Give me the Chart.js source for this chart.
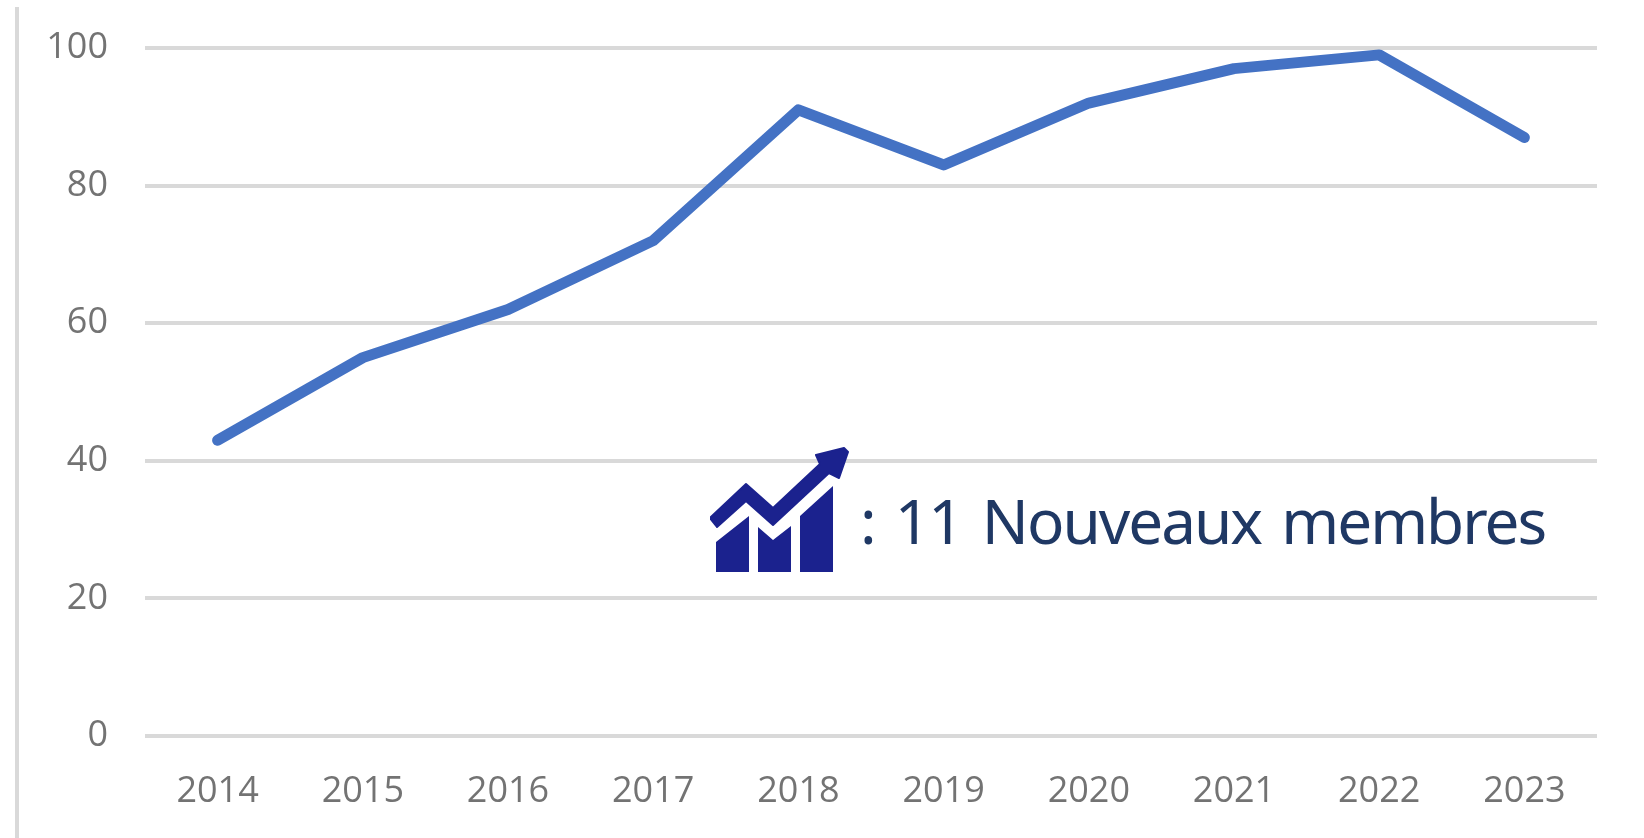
<!DOCTYPE html>
<html lang="fr">
<head>
<meta charset="utf-8">
<title>Nouveaux membres</title>
<script src="https://cdn.jsdelivr.net/npm/chart.js@4"></script>
<style>
html,body{margin:0;padding:0;background:#fff;width:1644px;height:838px;overflow:hidden}
#wrap{position:relative;width:1644px;height:838px}
#c{position:absolute;left:0;top:0}
#rule{position:absolute;left:15px;top:7px;width:4px;height:831px;background:#d9d9d9}
#icon{position:absolute;left:710px;top:447px}
#note{position:absolute;left:860px;top:489px;font:62px/1 "Noto Sans",sans-serif;letter-spacing:-2px;word-spacing:6px;color:#1f3864;white-space:nowrap}
</style>
</head>
<body>
<div id="wrap">
<canvas id="c" width="1644" height="838"></canvas>
<div id="rule"></div>
<svg id="icon" width="140" height="126" viewBox="0 0 140 126">
<path fill="#1b228e" stroke="#1b228e" stroke-width="2" stroke-linejoin="round" d="M0 71 L36 37 L63 61 L110 17 L106 8 L134 1 L138 5 L129 31 L119 26 L63 78 L36 54 L7 80 Z"/>
<path fill="#1b228e" d="M6 125 V95 L39 69 V125 Z M48 125 V80 L63 93 L81 79 V125 Z M90 125 V69 L123 39 V125 Z"/>
</svg>
<div id="note">: 11 Nouveaux membres</div>
</div>
<script>
const years = ['2014','2015','2016','2017','2018','2019','2020','2021','2022','2023'];
const members = [43,55,62,72,91,83,92,97,99,87];
const tickFont = {family:'"Open Sans"', size:36};
new Chart(document.getElementById('c'), {
  type:'line',
  data:{labels:years,datasets:[{data:members,borderColor:'#4472c4',borderWidth:11,borderCapStyle:'round',borderJoinStyle:'round',pointRadius:0,tension:0,fill:false}]},
  options:{
    responsive:false,animation:false,
    layout:{padding:{top:48,right:47,left:0,bottom:0}},
    plugins:{legend:{display:false},tooltip:{enabled:false}},
    scales:{
      x:{
        offset:true,
        grid:{display:false},border:{display:false},
        ticks:{color:'#737373',font:tickFont,padding:26,maxRotation:0,autoSkip:false},
        afterFit(s){s.height=102;s.paddingLeft=0;s.paddingRight=0;}
      },
      y:{
        min:0,max:100,
        grid:{color:'#d9d9d9',lineWidth:4,drawTicks:false},border:{display:false},
        ticks:{stepSize:20,color:'#737373',font:tickFont,padding:37},
        afterFit(s){s.width=145;s.paddingTop=0;s.paddingBottom=0;}
      }
    }
  }
});
</script>
</body>
</html>
